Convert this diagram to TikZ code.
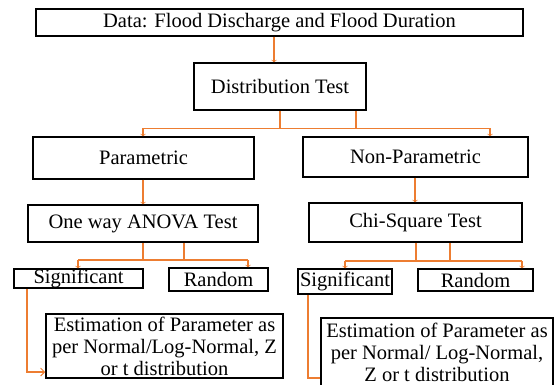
\documentclass[tikz,border=0pt]{standalone}
\usepackage{fontspec}
\setmainfont{Liberation Serif}
\usetikzlibrary{arrows.meta}
\definecolor{conn}{RGB}{237,125,49}
\tikzset{
  box/.style={draw=black, line width=1.5pt, fill=white, inner sep=0pt, align=center,
    font=\fontsize{20.5}{22}\selectfont},
  link/.style={draw=conn, line width=1.3pt},
  tip/.style={-{Straight Barb[length=2pt,width=5pt,line width=0.5pt]}},
  bigtip/.style={-{Straight Barb[length=4pt,width=8pt,line width=0.9pt]}},
}
\begin{document}
\begin{tikzpicture}[x=1pt,y=-1pt]
\useasboundingbox (0,0) rectangle (557,385);
\coordinate (x274) at (274,0);
\coordinate (x280) at (280,0);
\coordinate (x356) at (356,0);
\coordinate (x143) at (143,0);
\coordinate (x490) at (490,0);
\coordinate (x415) at (415,0);
\coordinate (x184) at (184,0);
\coordinate (x78) at (78,0);
\coordinate (x248) at (248,0);
\coordinate (x416) at (416,0);
\coordinate (x450) at (450,0);
\coordinate (x345) at (345,0);
\coordinate (x522) at (522,0);
\coordinate (x27) at (27,0);
\coordinate (x308) at (308,0);
\coordinate (h1) at (0,128.5);
\coordinate (h2) at (0,260);
\coordinate (h3) at (0,261);
\coordinate (h4) at (0,372);
\coordinate (h5) at (0,378);

% boxes
\node[box, minimum width=487pt, minimum height=27pt] (data) at (279.5,22.5) {Data: Flood Discharge and Flood Duration};
\node[box, minimum width=172pt, minimum height=47pt] (dist) at (280,86.5) {Distribution Test};
\node[box, minimum width=221pt, minimum height=42pt] (param) at (143.5,158) {Parametric};
\node[box, minimum width=225pt, minimum height=40pt] (nonp) at (415.5,157) {Non-Parametric};
\node[box, minimum width=230pt, minimum height=37pt] (anova) at (143,223.5) {One way ANOVA Test};
\node[box, minimum width=213pt, minimum height=39pt] (chi) at (415.5,222.5) {Chi-Square Test};
\node[box, minimum width=129pt, minimum height=19pt] (sigL) at (78.5,278.5) {Significant};
\node[box, minimum width=99pt, minimum height=23pt] (randL) at (218.5,279.5) {Random};
\node[box, minimum width=94pt, minimum height=25pt] (sigR) at (345,281.5) {Significant};
\node[box, minimum width=115pt, minimum height=22pt] (randR) at (475.5,280) {Random};
\node[box, minimum width=237pt, minimum height=64pt] (estL) at (164.5,346) {Estimation of Parameter as\\per Normal/Log-Normal, Z\\or t distribution};
\node[box, minimum width=232pt, minimum height=68pt] (estR) at (437,352) {Estimation of Parameter as\\per Normal/ Log-Normal,\\Z or t distribution};

% connectors
\draw[link,tip] (x274 |- data.south) -- (x274 |- dist.north);
\draw[link] (x280 |- dist.south) -- (x280 |- h1);
\draw[link] (x356 |- dist.south) -- (x356 |- h1);
\draw[link] (x143 |- h1) -- (x490 |- h1);
\draw[link,tip] (x143 |- h1) -- (x143 |- param.north);
\draw[link,tip] (x490 |- h1) -- (x490 |- nonp.north);
\draw[link,tip] (x143 |- param.south) -- (x143 |- anova.north);
\draw[link,tip] (x415 |- nonp.south) -- (x415 |- chi.north);
\draw[link] (x143 |- anova.south) -- (x143 |- h2);
\draw[link] (x184 |- anova.south) -- (x184 |- h2);
\draw[link] (x78 |- h2) -- (x248 |- h2);
\draw[link,tip] (x78 |- h2) -- (x78 |- sigL.north);
\draw[link,tip] (x248 |- h2) -- (x248 |- randL.north);
\draw[link] (x416 |- chi.south) -- (x416 |- h3);
\draw[link] (x450 |- chi.south) -- (x450 |- h3);
\draw[link] (x345 |- h3) -- (x522 |- h3);
\draw[link,tip] (x345 |- h3) -- (x345 |- sigR.north);
\draw[link,tip] (x522 |- h3) -- (x522 |- randR.north);
\draw[link,bigtip] (x27 |- sigL.south) -- (x27 |- h4) -- (estL.west |- h4);
\draw[link] (x308 |- sigR.south) -- (x308 |- h5) -- (estR.west |- h5);
\end{tikzpicture}
\end{document}
